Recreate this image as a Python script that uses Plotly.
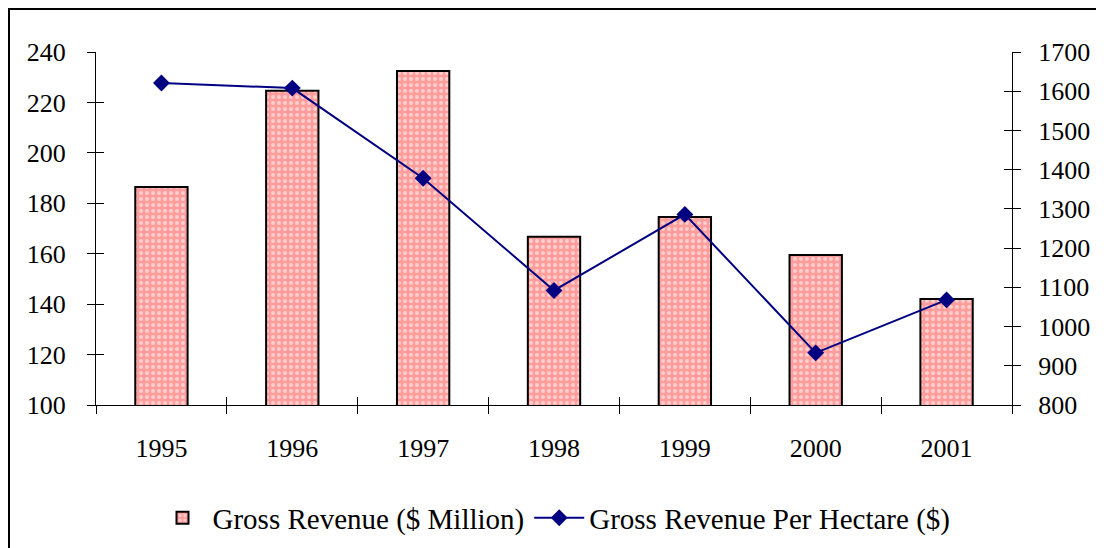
import plotly.graph_objects as go

years = ["1995", "1996", "1997", "1998", "1999", "2000", "2001"]
gross_revenue = [186.5, 224.6, 232.5, 166.7, 174.6, 159.5, 142.0]
revenue_per_ha = [1621, 1608, 1378, 1092, 1286, 933, 1068]

FONT = "Liberation Serif"

ML, MT, PW, PH = 88, 44, 916, 353
MR = 1104 - ML - PW
MB = 548 - MT - PH

fig = go.Figure()
fig.add_trace(go.Bar(
    x=years, y=gross_revenue, name="Gross Revenue ($ Million)",
    width=0.4,
    marker=dict(color="#ff9c9c", line=dict(color="black", width=2),
                pattern=dict(shape=".", fgcolor="white", bgcolor="#ff9c9c", size=6, solidity=0.35)),
))
fig.add_trace(go.Scatter(
    x=years, y=revenue_per_ha, name="Gross Revenue Per Hectare ($)", yaxis="y2",
    mode="lines+markers",
    line=dict(color="#000080", width=2),
    marker=dict(symbol="diamond", size=13, color="#000080"),
))

axis_common = dict(showgrid=False, zeroline=False, tickcolor="black", ticklen=8, tickwidth=1,
                   tickfont=dict(size=26))

fig.update_layout(
    width=1104, height=548,
    margin=dict(l=ML, r=MR, t=MT, b=MB),
    paper_bgcolor="white", plot_bgcolor="white",
    font=dict(family=FONT, size=26, color="black"),
    showlegend=True,
    legend=dict(orientation="h", x=0.5, xanchor="center", y=-0.32, yanchor="middle",
                font=dict(size=29), itemwidth=50, tracegroupgap=0),
    xaxis=dict(type="category", categoryarray=years, range=[-0.5, 6.5],
               tickson="boundaries", ticks="outside", showline=True, linecolor="black", linewidth=1,
               ticklabelstandoff=20, **axis_common),
    xaxis2=dict(type="category", categoryarray=years, range=[-0.5, 6.5], overlaying="x",
                anchor="y", side="bottom", tickson="boundaries", ticks="inside",
                showticklabels=False, showline=False, **axis_common),
    yaxis=dict(range=[100, 240], dtick=20, ticks="outside", showline=True, linecolor="black",
               linewidth=1, ticklabelstandoff=16, **axis_common),
    yaxis3=dict(range=[100, 240], dtick=20, ticks="inside", overlaying="y", side="left",
                anchor="x", showticklabels=False, showline=False, **axis_common),
    yaxis2=dict(range=[800, 1700], dtick=100, ticks="outside", overlaying="y", side="right",
                anchor="x", showline=True, linecolor="black", linewidth=1,
                ticklabelstandoff=12, **axis_common),
    yaxis4=dict(range=[800, 1700], dtick=100, ticks="inside", overlaying="y", side="right",
                anchor="x", showticklabels=False, showline=False, **axis_common),
    shapes=[dict(type="rect", xref="paper", yref="paper",
                 x0=(1 - ML) / PW, x1=(1104 + 40 - ML) / PW,
                 y0=-(548 + 40 - MT - PH) / PH, y1=1 + (MT - 1) / PH,
                 line=dict(color="black", width=2), layer="below")],
)

# invisible helper traces so the overlay tick axes render
fig.add_trace(go.Scatter(x=years, y=gross_revenue, xaxis="x2", yaxis="y3", mode="none",
                         showlegend=False, hoverinfo="skip"))
fig.add_trace(go.Scatter(x=years, y=revenue_per_ha, xaxis="x2", yaxis="y4", mode="none",
                         showlegend=False, hoverinfo="skip"))

fig.write_html("out.html")
